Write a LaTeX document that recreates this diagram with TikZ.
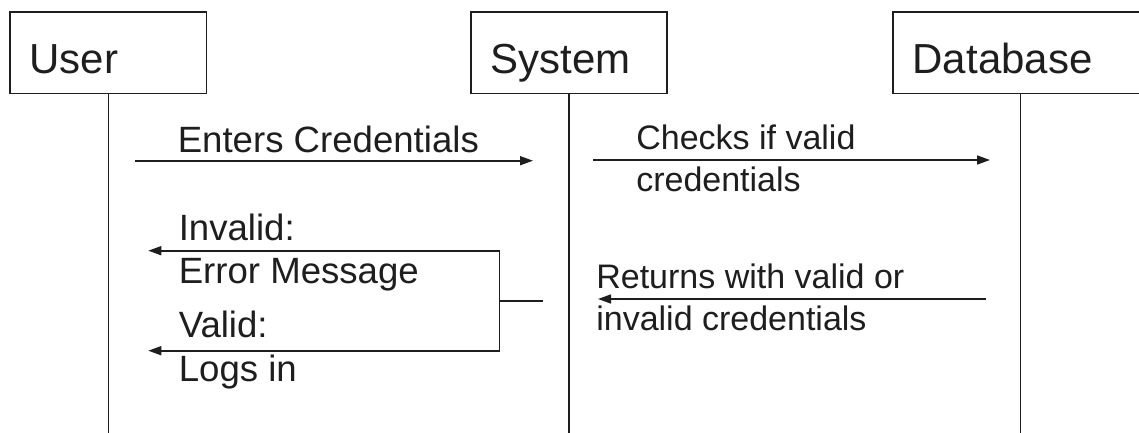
\documentclass[tikz,border=0pt]{standalone}
\usepackage{fontspec}
\setmainfont{Liberation Sans}
\usetikzlibrary{arrows.meta,calc}
\definecolor{ink}{HTML}{1E1E1E}
\begin{document}
\begin{tikzpicture}[x=1pt,y=-1pt,
  color=ink,
  line width=1.6pt,
  actor/.style={draw, rectangle, anchor=north west, line width=1.7pt,
    inner xsep=19.5pt, inner ysep=0pt, text height=61.7pt, text depth=20pt,
    align=left, font=\fontsize{42}{50}\selectfont},
  msg/.style={-{Triangle[length=13pt,width=9pt]}},
  lbl/.style={inner sep=0pt, anchor=north west, align=left,
    font=\fontsize{34}{42}\selectfont},
  lblwide/.style={lbl, font=\fontsize{36.6}{43.5}\selectfont},
]
\useasboundingbox (0,0) rectangle (1139,433);
\clip (0,0) rectangle (1139,433);
\fill[white] (0,0) rectangle (1139,433);

% participants
\node[actor, text width=157.4pt] (user) at (9.3,11) {User};
\node[actor, text width=157pt]   (sys)  at (470,11) {System};
\node[actor, text width=215.4pt] (db)   at (892.3,11) {Database};

% lifelines
\coordinate (floor) at (0,440);
\draw (user.south) -- (user.south |- floor);
\draw (sys.south)  -- (sys.south |- floor);
\draw (db.south)   -- (db.south |- floor);

% User -> System
\coordinate (e1) at (135,160.7);
\coordinate (e2) at (533,160.7);
\draw[msg] (e1) -- (e2);
\node[inner sep=0pt, anchor=base west, font=\fontsize{36.6}{43.5}\selectfont]
  (tenter) at (177,152.7) {Enters Credentials};

% System -> Database
\coordinate (c1) at (593.3,160);
\coordinate (c2) at (990,160);
\draw[msg] (c1) -- (c2);
\node[lbl] (tcheck) at (635.5,118.3) {\rule{0pt}{30pt}Checks if valid\\credentials};

% Database -> System
\coordinate (r1) at (986,299);
\coordinate (r2) at (598,299);
\draw[msg] (r1) -- (r2);
\node[lbl] (treturn) at (595.5,257.3) {\rule{0pt}{30pt}Returns with valid or\\invalid credentials};

% System -> User, split into the two outcomes
\coordinate (b0) at (542.7,300.7);
\coordinate (b1) at (499.3,300.7);
\coordinate (bt) at (499.3,250.7);
\coordinate (bb) at (499.3,350.7);
\coordinate (it) at (148.3,250.7);
\coordinate (vt) at (148.3,350.7);
\draw (b0) -- (b1);
\draw[msg] (b1) -- (bt) -- (it);
\draw[msg] (b1) -- (bb) -- (vt);
\node[lblwide] (tinvalid) at (178,209.5) {\rule{0pt}{30pt}Invalid:\\Error Message};
\node[lblwide] (tvalid)   at (178,307)   {\rule{0pt}{30pt}Valid:\\Logs in};
\end{tikzpicture}
\end{document}
